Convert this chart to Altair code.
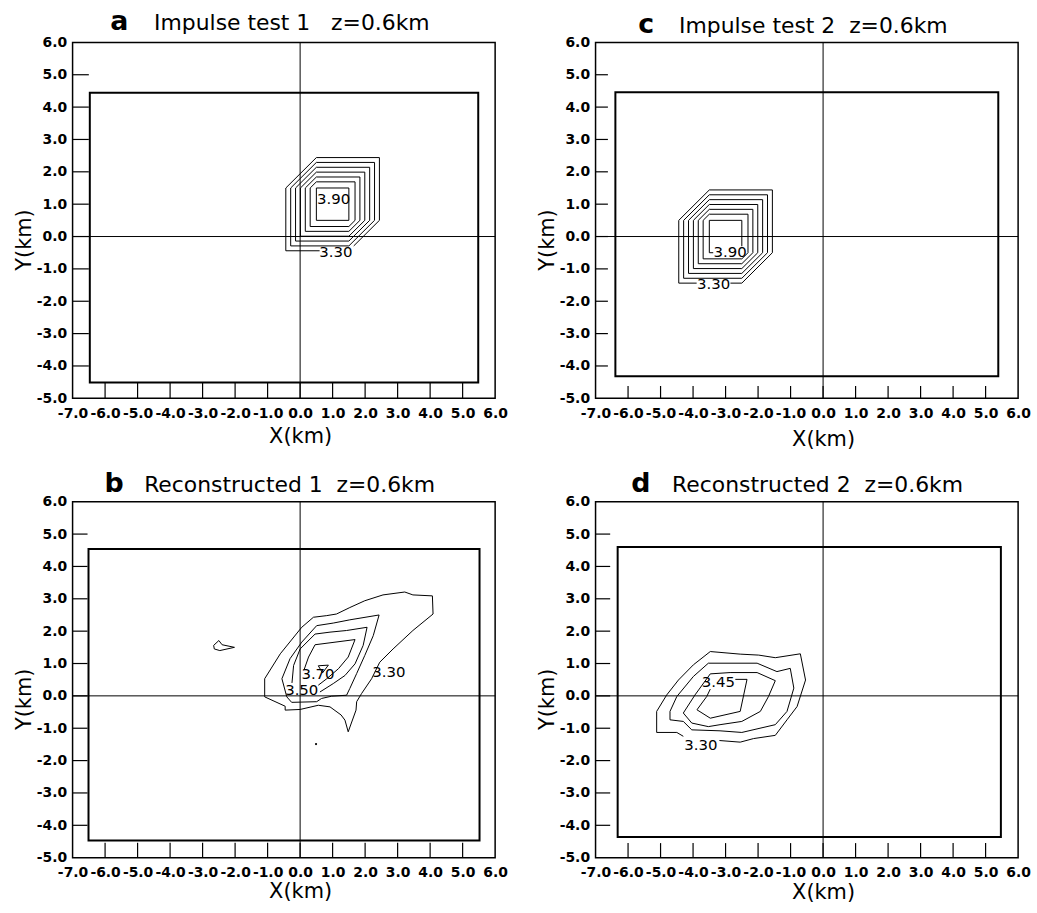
import altair as alt
import pandas as pd

# ---------------- shared axis values ----------------
X_LABELS = [-7.0, -6.0, -5.0, -4.0, -3.0, -2.0, -1.0, 0.0, 1.0, 2.0, 3.0, 4.0, 5.0, 6.0]
Y_LABELS = [-5.0, -4.0, -3.0, -2.0, -1.0, 0.0, 1.0, 2.0, 3.0, 4.0, 5.0, 6.0]
X_TICKS = [-6.0, -5.0, -4.0, -3.0, -2.0, -1.0, 0.0, 1.0, 2.0, 3.0, 4.0, 5.0]
Y_TICKS = [-4.0, -3.0, -2.0, -1.0, 0.0, 1.0, 2.0, 3.0, 4.0, 5.0]

NB = "\u00a0"

# ---------------- panel a ----------------
A_LETTER = "a"
A_TITLE = "Impulse test 1" + NB * 3 + "z=0.6km"
A_BOX = [-6.47, 5.48, -4.51, 4.44]
A_CONTOURS = [
    [(1.65, -0.29), (2.44, 0.50), (2.44, 2.44), (0.50, 2.44), (-0.44, 1.50), (-0.44, -0.44), (0.60, -0.44)],
    [(-0.29, 1.50), (0.50, 2.29), (2.29, 2.29), (2.29, 0.50), (1.50, -0.29), (-0.29, -0.29), (-0.29, 1.50)],
    [(-0.14, 1.50), (0.50, 2.14), (2.14, 2.14), (2.14, 0.50), (1.50, -0.14), (-0.14, -0.14), (-0.14, 1.50)],
    [(0.01, 1.50), (0.50, 1.99), (1.99, 1.99), (1.99, 0.50), (1.50, 0.01), (0.01, 0.01), (0.01, 1.50)],
    [(0.16, 1.50), (0.50, 1.84), (1.84, 1.84), (1.84, 0.50), (1.50, 0.16), (0.16, 0.16), (0.16, 1.50)],
    [(0.31, 1.50), (0.50, 1.69), (1.69, 1.69), (1.69, 0.50), (1.50, 0.31), (0.31, 0.31), (0.31, 1.50)],
    [(0.50, 1.50), (1.50, 1.50), (1.50, 0.50), (0.50, 0.50), (0.50, 1.50)],
]
A_LABEL_TEXT = ["3.90", "3.30"]
A_LABEL_X = [1.03, 1.10]
A_LABEL_Y = [1.16, -0.47]

# ---------------- panel c ----------------
C_LETTER = "c"
C_TITLE = "Impulse test 2" + NB * 2 + "z=0.6km"
C_BOX = [-6.39, 5.39, -4.32, 4.46]
C_CONTOURS = [
    [(-2.85, -1.44), (-2.50, -1.44), (-1.56, -0.50), (-1.56, 1.44), (-3.50, 1.44), (-4.44, 0.50), (-4.44, -1.44), (-3.89, -1.44)],
    [(-4.29, 0.50), (-3.50, 1.29), (-1.71, 1.29), (-1.71, -0.50), (-2.50, -1.29), (-4.29, -1.29), (-4.29, 0.50)],
    [(-4.14, 0.50), (-3.50, 1.14), (-1.86, 1.14), (-1.86, -0.50), (-2.50, -1.14), (-4.14, -1.14), (-4.14, 0.50)],
    [(-3.99, 0.50), (-3.50, 0.99), (-2.01, 0.99), (-2.01, -0.50), (-2.50, -0.99), (-3.99, -0.99), (-3.99, 0.50)],
    [(-3.84, 0.50), (-3.50, 0.84), (-2.16, 0.84), (-2.16, -0.50), (-2.50, -0.84), (-3.84, -0.84), (-3.84, 0.50)],
    [(-3.69, 0.50), (-3.50, 0.69), (-2.31, 0.69), (-2.31, -0.50), (-2.50, -0.69), (-3.69, -0.69), (-3.69, 0.50)],
    [(-2.50, -0.30), (-2.50, 0.50), (-3.50, 0.50), (-3.50, -0.50), (-3.38, -0.50)],
]
C_LABEL_TEXT = ["3.90", "3.30"]
C_LABEL_X = [-2.86, -3.37]
C_LABEL_Y = [-0.47, -1.48]

# ---------------- panel b ----------------
B_LETTER = "b"
B_TITLE = "Reconstructed 1" + NB * 2 + "z=0.6km"
B_BOX = [-6.51, 5.52, -4.47, 4.54]
B_CONTOURS = [
    [(4.09, 2.53), (3.47, 2.02), (2.86, 1.45), (2.45, 1.04), (2.20, 0.53), (1.89, 0.07), (1.74, -0.18),
     (1.72, -0.44), (1.48, -1.11), (1.38, -0.75), (1.26, -0.59), (0.92, -0.34), (0.56, -0.29), (0.00, -0.42),
     (-0.46, -0.44), (-0.46, -0.32), (-1.09, -0.03), (-1.09, 0.53), (-0.61, 1.30), (0.05, 2.12), (0.41, 2.43),
     (0.82, 2.48), (1.12, 2.53), (1.53, 2.73), (1.99, 2.94), (2.55, 3.12), (3.22, 3.21), (3.47, 3.12),
     (4.07, 3.09), (4.09, 2.53)],
    [(-0.56, 0.53), (-0.31, 1.15), (0.05, 1.66), (0.51, 2.17), (1.02, 2.25), (1.53, 2.35), (2.43, 2.50),
     (2.25, 1.86), (1.99, 1.25), (1.74, 0.69), (1.53, 0.23), (1.43, 0.02), (0.97, -0.01), (0.66, -0.08),
     (0.51, -0.18), (-0.26, -0.20), (-0.41, -0.03), (-0.56, 0.53)],
    [(-0.25, 0.40), (-0.20, 0.94), (0.00, 1.45), (0.46, 1.91), (0.92, 1.97), (1.43, 2.02), (2.06, 2.12),
     (1.94, 1.56), (1.69, 0.99), (1.38, 0.63), (1.02, 0.38), (0.61, 0.12)],
    [(0.12, 0.80), (0.26, 1.20), (0.46, 1.58), (1.69, 1.74), (1.48, 1.20), (1.18, 0.84), (0.82, 0.53),
     (0.56, 0.33)],
    [(0.56, 0.93), (0.87, 0.95), (0.69, 0.71), (0.56, 0.93)],
    [(-2.66, 1.56), (-2.50, 1.71), (-2.40, 1.58), (-2.02, 1.50), (-2.47, 1.40), (-2.64, 1.45), (-2.66, 1.56)],
]
B_LABEL_TEXT = ["3.70", "3.50", "3.30"]
B_LABEL_X = [0.55, 0.05, 2.73]
B_LABEL_Y = [0.67, 0.17, 0.74]
B_DOT_X = [0.49]
B_DOT_Y = [-1.49]

# ---------------- panel d ----------------
D_LETTER = "d"
D_TITLE = "Reconstructed 2" + NB * 2 + "z=0.6km"
D_BOX = [-6.32, 5.47, -4.36, 4.60]
D_CONTOURS = [
    [(-3.19, -1.38), (-2.55, -1.43), (-2.14, -1.32), (-1.47, -1.22), (-1.11, -0.74), (-0.80, -0.33),
     (-0.54, 0.49), (-0.70, 1.30), (-1.47, 1.18), (-1.98, 1.26), (-2.55, 1.29), (-3.47, 1.37), (-3.99, 0.96),
     (-4.45, 0.49), (-4.81, 0.03), (-5.12, -0.48), (-5.12, -1.13), (-4.50, -1.13), (-4.30, -1.25)],
    [(-3.53, 1.01), (-2.03, 1.01), (-1.42, 0.75), (-1.01, 0.85), (-0.90, 0.24), (-1.11, -0.48), (-1.47, -0.89),
     (-2.50, -1.13), (-3.17, -1.08), (-4.04, -1.05), (-4.30, -0.79), (-4.71, -0.74), (-4.71, -0.48),
     (-4.50, -0.02), (-3.99, 0.60), (-3.53, 1.01)],
    [(-3.47, 0.68), (-2.86, 0.72), (-2.03, 0.72), (-1.47, 0.47), (-1.68, -0.02), (-1.93, -0.48), (-2.50, -0.79),
     (-3.17, -0.89), (-3.53, -0.95), (-4.04, -0.84), (-4.30, -0.53), (-3.94, 0.03), (-3.47, 0.68)],
    [(-2.70, 0.51), (-2.34, 0.51), (-2.55, -0.48), (-3.47, -0.69), (-3.88, -0.43), (-3.58, -0.02), (-3.47, 0.21)],
]
D_LABEL_TEXT = ["3.45", "3.30"]
D_LABEL_X = [-3.22, -3.76]
D_LABEL_Y = [0.44, -1.51]

# ---------------- layout constants ----------------
W = 425
H = 358
FONT = "DejaVu Sans"
LABEL_EXPR = "(datum.value < 0 ? '-' : '') + format(abs(datum.value), '.1f')"


def panel(letter, title, box, contours, lab_text, lab_x, lab_y, geo, dots=None):
    letter_x, main_x, title_y, xtitle_y, tick_len = geo
    xs = alt.Scale(domain=[-7, 6], nice=False, zero=False)
    ys = alt.Scale(domain=[-5, 6], nice=False, zero=False)
    xaxis = alt.Axis(values=X_LABELS, labelExpr=LABEL_EXPR, title="X(km)", titleX=W * 7 / 13, titleY=xtitle_y,
                     domain=False, ticks=False, tickSize=0, grid=False,
                     labelFont=FONT, labelFontWeight="bold", labelFontSize=14, labelColor="black",
                     labelPadding=8, labelFlush=False, labelOverlap=False,
                     titleFont=FONT, titleFontSize=21, titleFontWeight="normal", titleColor="black")
    yaxis = alt.Axis(values=Y_LABELS, labelExpr=LABEL_EXPR, title="Y(km)", titleX=-38, titleY=H * 6 / 11 + 3,
                     domain=False, ticks=False, tickSize=0, grid=False,
                     labelFont=FONT, labelFontWeight="bold", labelFontSize=14, labelColor="black",
                     labelPadding=6, labelFlush=False, labelOverlap=False,
                     titleFont=FONT, titleFontSize=21, titleFontWeight="normal", titleColor="black")

    def X(f):
        return alt.X(f, type="quantitative", scale=xs, axis=xaxis)

    def Y(f):
        return alt.Y(f, type="quantitative", scale=ys, axis=yaxis)

    box_df = pd.DataFrame({"x1": [box[0]], "x2": [box[1]], "y1": [box[2]], "y2": [box[3]]})
    box_layer = alt.Chart(box_df).mark_rect(fillOpacity=0, stroke="black", strokeWidth=2).encode(
        x=X("x1"), x2="x2", y=Y("y1"), y2="y2")

    vline = alt.Chart(pd.DataFrame({"x": [0.0]})).mark_rule(color="black", strokeWidth=1).encode(x=X("x"))
    hline = alt.Chart(pd.DataFrame({"y": [0.0]})).mark_rule(color="black", strokeWidth=1).encode(y=Y("y"))

    yt = pd.DataFrame({"y": Y_TICKS, "x1": [-7.0] * len(Y_TICKS), "x2": [-7.0 + tick_len] * len(Y_TICKS)})
    xt = pd.DataFrame({"x": X_TICKS, "y1": [-5.0] * len(X_TICKS), "y2": [-5.0 + tick_len] * len(X_TICKS)})
    yt_layer = alt.Chart(yt).mark_rule(color="black", strokeWidth=1.2).encode(y=Y("y"), x=X("x1"), x2="x2")
    xt_layer = alt.Chart(xt).mark_rule(color="black", strokeWidth=1.2).encode(x=X("x"), y=Y("y1"), y2="y2")

    rows = []
    for cid, pts in enumerate(contours):
        for k, (px, py) in enumerate(pts):
            rows.append({"x": px, "y": py, "cid": cid, "ord": k})
    cdf = pd.DataFrame(rows)
    cont = alt.Chart(cdf).mark_line(color="black", strokeWidth=1).encode(
        x=X("x"), y=Y("y"), detail="cid:N", order="ord:Q")

    ldf = pd.DataFrame({"x": lab_x, "y": lab_y, "t": lab_text})
    labels = alt.Chart(ldf).mark_text(font=FONT, fontSize=15, color="black", baseline="middle",
                                      align="center").encode(x=X("x"), y=Y("y"), text="t:N")

    one = pd.DataFrame({"k": [0]})
    t_letter = alt.Chart(one).mark_text(font=FONT, fontSize=27, fontWeight="bold", color="black",
                                        align="left", baseline="alphabetic").encode(
        x=alt.value(letter_x), y=alt.value(title_y), text=alt.value(letter))
    t_main = alt.Chart(one).mark_text(font=FONT, fontSize=22, color="black",
                                      align="left", baseline="alphabetic").encode(
        x=alt.value(main_x), y=alt.value(title_y), text=alt.value(title))

    layers = [box_layer, vline, hline, yt_layer, xt_layer, cont, labels, t_letter, t_main]
    if dots is not None:
        ddf = pd.DataFrame({"x": dots[0], "y": dots[1]})
        layers.append(alt.Chart(ddf).mark_circle(color="black", size=5, opacity=1).encode(x=X("x"), y=Y("y")))
    return alt.layer(*layers).properties(width=W, height=H)


pa = panel(A_LETTER, A_TITLE, A_BOX, A_CONTOURS, A_LABEL_TEXT, A_LABEL_X, A_LABEL_Y, (38, 82, -12, 27, 0.50))
pc = panel(C_LETTER, C_TITLE, C_BOX, C_CONTOURS, C_LABEL_TEXT, C_LABEL_X, C_LABEL_Y, (43, 84, -9.5, 30, 0.38))
pb = panel(B_LETTER, B_TITLE, B_BOX, B_CONTOURS, B_LABEL_TEXT, B_LABEL_X, B_LABEL_Y, (32, 72, -10, 23, 0.46),
           dots=(B_DOT_X, B_DOT_Y))
pd_ = panel(D_LETTER, D_TITLE, D_BOX, D_CONTOURS, D_LABEL_TEXT, D_LABEL_X, D_LABEL_Y, (36, 77, -10, 24, 0.45))

chart = alt.vconcat(
    alt.hconcat(pa, pc, spacing=27),
    alt.hconcat(pb, pd_, spacing=27),
    spacing=19,
).properties(
    padding={"left": 13, "top": 5, "right": 5, "bottom": 2},
    background="white",
).configure_view(stroke="black", strokeWidth=1.5)

chart.save("out.html", embed_options={"renderer": "svg", "actions": False})
